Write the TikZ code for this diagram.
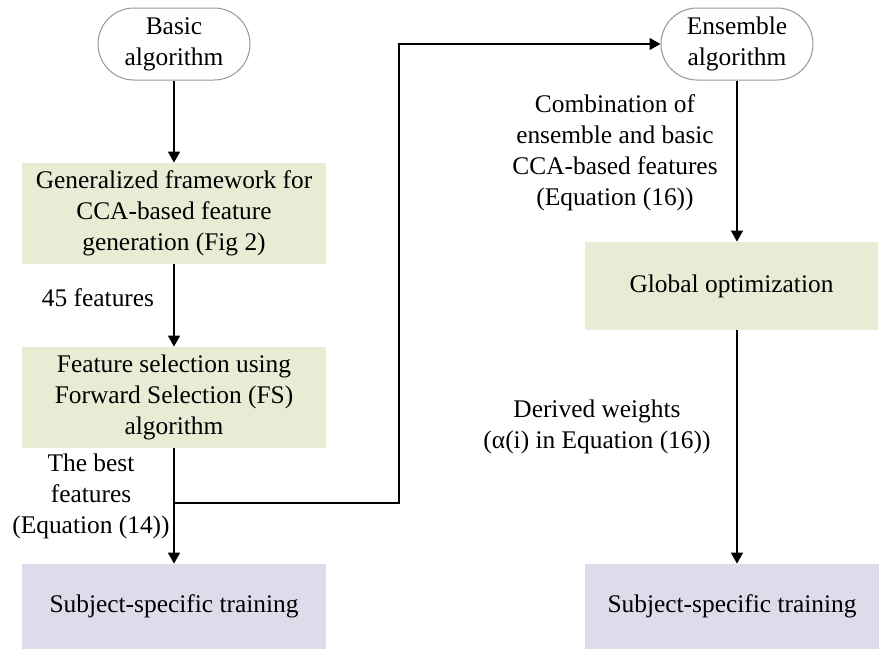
\documentclass[tikz,border=0pt]{standalone}
\usepackage{fontspec}
\setmainfont{Liberation Serif}
\usetikzlibrary{arrows.meta}
\definecolor{boxgreen}{RGB}{230,237,212}
\definecolor{boxpurple}{RGB}{221,220,234}
\definecolor{edgegray}{RGB}{150,150,150}

\begin{document}
\begin{tikzpicture}[x=0.5pt,y=-0.5pt,>={Triangle[length=5.5pt,width=6pt]},
  every node/.style={font=\fontsize{12.7}{15.5}\selectfont,align=center,inner sep=0pt},
  startbox/.style={draw=edgegray,line width=0.5pt,rounded corners=18pt,minimum width=76pt,minimum height=36pt},
  greenbox/.style={fill=boxgreen,minimum width=152pt,minimum height=50.5pt},
  purplebox/.style={fill=boxpurple,minimum width=152pt,minimum height=42.5pt},
  line/.style={->,line width=0.6pt}]
  \useasboundingbox (0,0) rectangle (879,649);
  % left column
  \node[startbox] (basic) at (174,44) {Basic\\algorithm};
  \node[greenbox] (gen) at (174,213.5) {Generalized framework for\\CCA-based feature\\generation (Fig 2)};
  \node[greenbox] (fs) at (174,397.5) {Feature selection using\\Forward Selection (FS)\\algorithm};
  \node[purplebox] (train1) at (174,606.5) {Subject-specific training};
  % right column
  \node[startbox] (ens) at (737,44) {Ensemble\\algorithm};
  \node[greenbox,minimum width=146.5pt,minimum height=44pt] (glob) at (731.5,286) {Global optimization};
  \node[purplebox,minimum width=147pt] (train2) at (732,606.5) {Subject-specific training};
  % labels
  \node (nfeat) at (98,298) {45 features};
  \node (nbest) at (91,496) {The best\\features\\(Equation (14))};
  \node (ncomb) at (615,153) {Combination of\\ensemble and basic\\CCA-based features\\(Equation (16))};
  \node (nweight) at (597,427) {Derived weights\\(α(i) in Equation (16))};
  % connectors
  \draw[line] (basic) -- (gen);
  \draw[line] (gen) -- (fs);
  \draw[line] (fs) -- (train1);
  \coordinate (split) at (174,503);
  \coordinate (bend) at (399,503);
  \draw[line] (split) -- (bend) |- (ens);
  \draw[line] (ens) -- (ens |- glob.north);
  \draw[line] (ens |- glob.south) -- (ens |- train2.north);
\end{tikzpicture}
\end{document}
